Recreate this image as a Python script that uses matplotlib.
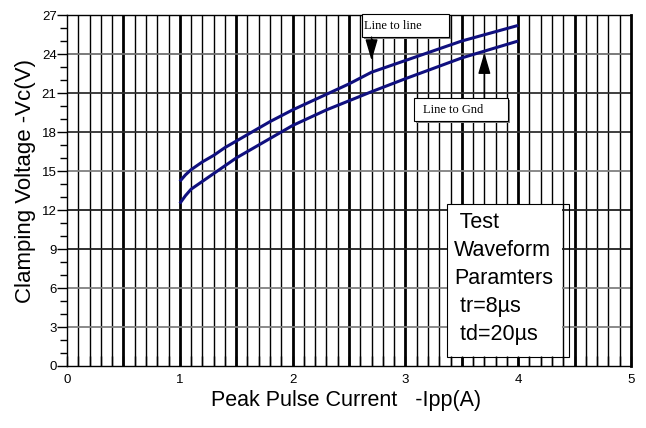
import numpy as np
import matplotlib
matplotlib.use("Agg")
import matplotlib.pyplot as plt
from matplotlib.patches import Rectangle

plt.rcParams['font.family'] = ['Liberation Sans', 'DejaVu Sans']

# ---- data ----
current = [1.0, 1.05, 1.1, 1.2, 1.3, 1.4, 1.5, 1.6, 1.8, 2.0, 2.3, 2.5, 2.7, 3.0, 3.5, 4.0]
line_to_line = [14.2, 14.7, 15.1, 15.7, 16.2, 16.8, 17.3, 17.8, 18.8, 19.7, 20.9, 21.7,
                22.6, 23.5, 25.0, 26.2]
line_to_gnd = [12.5, 13.1, 13.6, 14.2, 14.8, 15.4, 16.0, 16.5, 17.5, 18.5, 19.7, 20.4,
               21.1, 22.1, 23.7, 25.0]
x_ticks = [0, 1, 2, 3, 4, 5]
y_ticks = [0, 3, 6, 9, 12, 15, 18, 21, 24, 27]
info_lines = [" Test", "Waveform", "Paramters", " tr=8\u00b5s", " td=20\u00b5s"]

fig = plt.figure(figsize=(6.46, 4.28), dpi=100)
ax = fig.add_axes([67/646, 1-366/428, (631-67)/646, (366-15)/428])
ax.set_xlim(0, 5)
ax.set_ylim(0, 27)
ax.set_axisbelow(False)

# grid lines (manual so boxes can cover them)
for i in range(1, 50):
    xv = i / 10
    thick = (i % 5 == 0)
    ax.axvline(xv, color='black', lw=2.0 if thick else 1.0, zorder=1)
hcolors = {3: '#808080', 6: '#808080', 9: '#202020', 12: '#202020',
           15: '#808080', 18: '#303030', 21: '#303030', 24: '#707070'}
for yv in y_ticks[1:-1]:
    ax.axhline(yv, color=hcolors[yv], lw=1.3, zorder=1)

# curves
ax.plot(current, line_to_line, color='#10107f', lw=2.2, zorder=4,
        solid_capstyle='butt', solid_joinstyle='round')
ax.plot(current, line_to_gnd, color='#10107f', lw=2.2, zorder=4,
        solid_capstyle='butt', solid_joinstyle='round')

# ticks
ax.set_xticks(x_ticks)
ax.set_xticks(np.arange(0, 5.01, 0.1), minor=True)
ax.set_yticks(y_ticks)
ax.set_yticks(np.arange(0, 27.01, 1), minor=True)
ax.tick_params(axis='x', which='both', direction='in', length=7, width=1.0, pad=6,
               labelsize=9.5, top=False)
ax.tick_params(axis='y', which='major', direction='out', length=7, width=1.0, pad=0.5,
               labelsize=9.5, right=False)
ax.tick_params(axis='y', which='minor', direction='out', length=5, width=1.0, right=False)
for s in ['left', 'bottom', 'top']:
    ax.spines[s].set_linewidth(1.0)
ax.spines['right'].set_linewidth(2.0)

ax.set_xlabel("Peak Pulse Current   -Ipp(A)", fontsize=15.5)
ax.set_ylabel("Clamping Voltage -Vc(V)", fontsize=16)
ax.xaxis.set_label_coords(0.495, -0.097)
ax.xaxis.label.set_va('center')
ax.yaxis.set_label_coords(-0.074, 0.527)
ax.yaxis.label.set_va('center')

# annotation boxes with shadow
def shadow_box(x0, x1, y0, y1, z=5):
    dx, dy = 0.018, 0.15
    ax.add_patch(Rectangle((x0 + dx, y0 - dy), x1 - x0, y1 - y0, facecolor='#808080',
                           edgecolor='none', zorder=z, clip_on=False))
    ax.add_patch(Rectangle((x0, y0), x1 - x0, y1 - y0, facecolor='white',
                           edgecolor='black', lw=0.8, zorder=z + 0.1, clip_on=False))

shadow_box(2.615, 3.387, 25.3, 27.08)
ax.text(2.635, 26.15, "Line to line", family='Liberation Serif', fontsize=9,
        va='center', ha='left', zorder=6)
shadow_box(3.076, 3.91, 18.85, 20.6)
ax.text(3.16, 19.72, "Line to Gnd", family='Liberation Serif', fontsize=9,
        va='center', ha='left', zorder=6)

ap = dict(arrowstyle='-|>,head_width=0.38,head_length=1.3', color='black', lw=1.0,
          shrinkA=0, shrinkB=0, mutation_scale=10)
ax.annotate('', xy=(2.70, 23.5), xytext=(2.70, 25.3), arrowprops=ap, zorder=6)
ax.annotate('', xy=(3.70, 24.1), xytext=(3.70, 20.6), arrowprops=ap, zorder=6)

# test waveform box: fill slightly narrower than frame
ax.add_patch(Rectangle((3.37, 0.7), 4.39 - 3.37, 12.46 - 0.7, facecolor='white',
                       edgecolor='none', zorder=2))
ax.add_patch(Rectangle((3.37, 0.7), 4.45 - 3.37, 12.46 - 0.7, facecolor='none',
                       edgecolor='black', lw=0.8, zorder=3))
line_y = [11.05, 8.85, 6.75, 4.55, 2.4]
for txt, yy in zip(info_lines, line_y):
    ax.text(3.43, yy, txt, fontsize=15.5, va='center', ha='left', zorder=3)

fig.savefig("out.png", dpi=100)
